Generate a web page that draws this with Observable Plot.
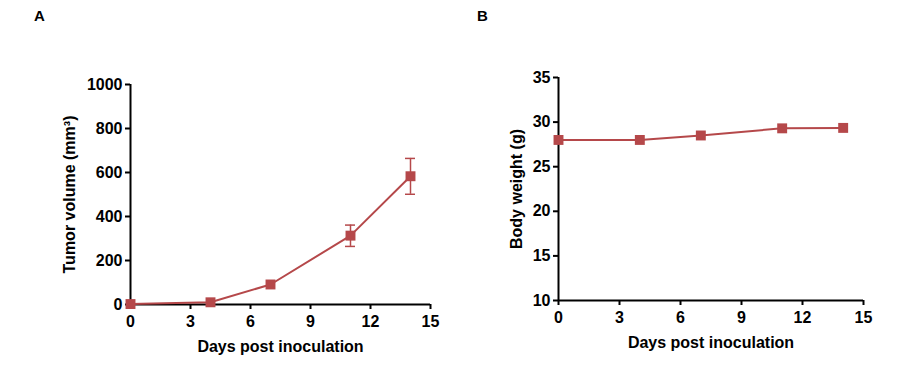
<!DOCTYPE html>
<html>
<head>
<meta charset="utf-8">
<script src="https://cdn.jsdelivr.net/npm/d3@7"></script>
<script src="https://cdn.jsdelivr.net/npm/@observablehq/plot@0.6"></script>
<style>
  html, body { margin: 0; padding: 0; background: #fff; }
  #fig { position: relative; width: 910px; height: 377px; font-family: "Liberation Sans", Arial, sans-serif; }
  .panel { position: absolute; top: 0; }
  .tag { position: absolute; font-weight: bold; font-size: 15px; }
  #fig svg text { font-size: 16px !important; font-weight: bold !important; fill: #000; }
</style>
</head>
<body>
<div id="fig">
  <div class="tag" style="left:34px; top:7px;">A</div>
  <div class="tag" style="left:477px; top:7px;">B</div>
  <div id="pa" class="panel" style="left:0px;"></div>
  <div id="pb" class="panel" style="left:455px;"></div>
</div>
<script>
// Data
const days = [0, 4, 7, 11, 14];
const tumorMean = [2, 10, 91, 313, 583];
const tumorLow  = [2, 10, 91, 264, 501];
const tumorHigh = [2, 10, 91, 361, 664];
const bodyWeight = [28.0, 28.0, 28.5, 29.3, 29.35];
const xTicks = [0, 3, 6, 9, 12, 15];
const tumorTicks = [0, 200, 400, 600, 800, 1000];
const weightTicks = [10, 15, 20, 25, 30, 35];

const color = "#b5484a";
const font = "'Liberation Sans', Arial, sans-serif";

const tumor = days.map((d, i) => ({day: d, mean: tumorMean[i], lo: tumorLow[i], hi: tumorHigh[i]}));
const weight = days.map((d, i) => ({day: d, w: bodyWeight[i]}));

function axes(yTicks, yLabel, yLabelOffset) {
  return [
    Plot.axisX({ticks: xTicks, tickFormat: d => String(d), tickSize: 5, strokeWidth: 2, tickPadding: 6,
      fill: "#000", label: "Days post inoculation",
      labelAnchor: "center", labelArrow: "none", labelOffset: 47}),
    Plot.axisY({ticks: yTicks, tickFormat: d => String(d), tickSize: 5, strokeWidth: 2, tickPadding: 3,
      fill: "#000", label: yLabel,
      labelAnchor: "center", labelArrow: "none", labelOffset: yLabelOffset})
  ];
}

const pa = Plot.plot({
  width: 455, height: 377,
  marginLeft: 130, marginRight: 25, marginTop: 84, marginBottom: 73,
  style: {fontFamily: font, fontSize: "16px", fontWeight: "bold", color: "#000", background: "transparent", overflow: "visible"},
  x: {domain: [0, 15]},
  y: {domain: [0, 1000]},
  marks: [
    ...axes(tumorTicks, "Tumor volume (mm³)", 67),
    Plot.ruleX([0], {stroke: "#000", strokeWidth: 2}),
    Plot.ruleY([0], {stroke: "#000", strokeWidth: 2}),
    Plot.ruleX(tumor.filter(d => d.hi > d.lo), {x: "day", y1: "lo", y2: "hi", stroke: color, strokeWidth: 1.5}),
    Plot.ruleY(tumor.filter(d => d.hi > d.lo), {y: "hi", x1: "day", x2: "day", insetLeft: -5, insetRight: -5, stroke: color, strokeWidth: 1.5}),
    Plot.ruleY(tumor.filter(d => d.hi > d.lo), {y: "lo", x1: "day", x2: "day", insetLeft: -5, insetRight: -5, stroke: color, strokeWidth: 1.5}),
    Plot.line(tumor, {x: "day", y: "mean", stroke: color, strokeWidth: 2}),
    Plot.dot(tumor, {x: "day", y: "mean", symbol: "square", r: 5.6, fill: color, stroke: "none"})
  ]
});
document.getElementById("pa").appendChild(pa);

const pb = Plot.plot({
  width: 455, height: 377,
  marginLeft: 103, marginRight: 47, marginTop: 77, marginBottom: 77,
  style: {fontFamily: font, fontSize: "16px", fontWeight: "bold", color: "#000", background: "transparent", overflow: "visible"},
  x: {domain: [0, 15]},
  y: {domain: [10, 35]},
  marks: [
    ...axes(weightTicks, "Body weight (g)", 48),
    Plot.ruleX([0], {stroke: "#000", strokeWidth: 2}),
    Plot.ruleY([10], {stroke: "#000", strokeWidth: 2}),
    Plot.line(weight, {x: "day", y: "w", stroke: color, strokeWidth: 2}),
    Plot.dot(weight, {x: "day", y: "w", symbol: "square", r: 5.6, fill: color, stroke: "none"})
  ]
});
document.getElementById("pb").appendChild(pb);
</script>
</body>
</html>
